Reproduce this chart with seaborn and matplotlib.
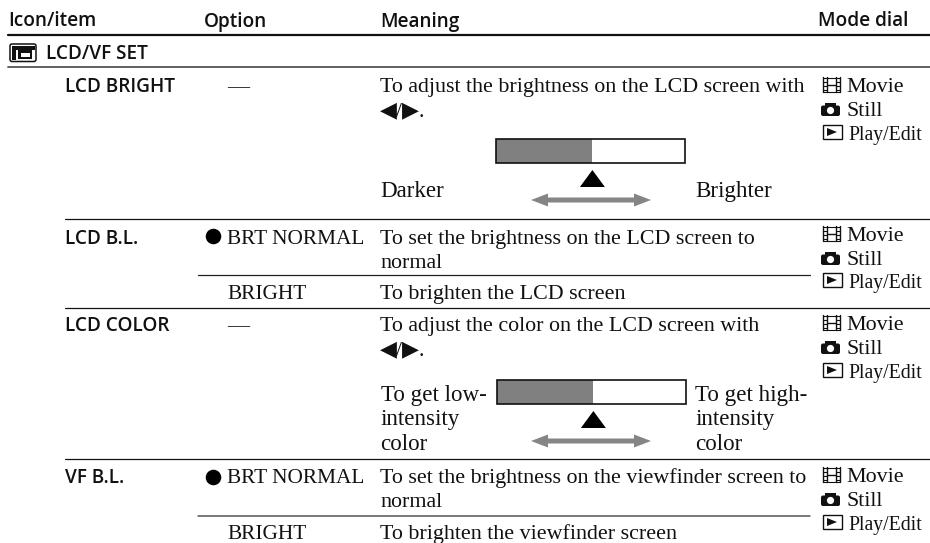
#!/usr/bin/env python3
# menu settings table, drawn on one pixel-sized axes
import matplotlib
matplotlib.use('Agg')
import matplotlib.pyplot as plt
from matplotlib.patches import Rectangle, Circle, FancyBboxPatch, Polygon, FancyArrow
import pandas as pd
import seaborn as sns

headers = ['Icon/item', 'Option', 'Meaning', 'Mode dial']
section = 'LCD/VF SET'
items = ['LCD BRIGHT', 'LCD B.L.', 'LCD COLOR', 'VF B.L.']
options = ['—', 'BRT NORMAL', 'BRIGHT', '—', 'BRT NORMAL', 'BRIGHT']
meanings = [
    ['To adjust the brightness on the LCD screen with', '◀/▶.'],
    ['To set the brightness on the LCD screen to', 'normal'],
    ['To brighten the LCD screen'],
    ['To adjust the color on the LCD screen with', '◀/▶.'],
    ['To set the brightness on the viewfinder screen to', 'normal'],
    ['To brighten the viewfinder screen'],
]
modes = ['Movie', 'Still', 'Play/Edit']
slider_level = [0.51, 0.51]
slider_left = ['Darker', 'To get low-\nintensity\ncolor']
slider_right = ['Brighter', 'To get high-\nintensity\ncolor']

SANS = 'Open Sans'
SERIF = ['Liberation Serif', 'DejaVu Sans']
FS_SANS = 13.7
FS_SERIF = 15.8
FS_LABEL = 16.6

sns.set_theme(style='white')
plt.rcParams['font.family'] = SERIF

fig = plt.figure(figsize=(9.3, 5.43), dpi=100)
ax = fig.add_axes([0, 0, 1, 1])
ax.set_facecolor('white')


def sans(x, y, s):
    ax.text(x, y, s, family=SANS, weight=600, fontsize=FS_SANS, va='baseline', color='#111111')


def serif(x, y, s, fs=FS_SERIF):
    ax.text(x, y, s, family=SERIF, fontsize=fs, va='baseline', color='#111111')


# rules: x from, x to, y, width, colour
rules = [(8, 930, 35, 1.6, '#111111'), (8, 930, 67, 1.3, '#555555'),
         (65, 930, 219, 0.9, '#111111'), (198, 810, 275, 0.9, '#222222'),
         (65, 930, 308, 0.9, '#111111'), (65, 930, 459, 0.9, '#111111'),
         (198, 810, 516, 1.1, '#555555')]
for x0, x1, y, lw, col in rules:
    df = pd.DataFrame({'x': [x0, x1], 'y': [y, y]})
    sns.lineplot(data=df, x='x', y='y', color=col, linewidth=lw, ax=ax, estimator=None,
                 sort=False, legend=False)

# header + section row
for x, s in zip([8, 204, 380, 818], headers):
    sans(x, 26.5, s)
sans(46, 59, section)

# LCD icon
ax.add_patch(FancyBboxPatch((10, 44), 26, 17.5, boxstyle='round,pad=0,rounding_size=2',
                            fc='white', ec='#111111', lw=1.1))
ax.add_patch(Rectangle((11.5, 46), 23, 3.5, fc='#111111', ec='none'))
ax.add_patch(Rectangle((11.5, 46), 4, 14, fc='#111111', ec='none'))
ax.add_patch(Rectangle((18, 50), 14, 9, fc='#111111', ec='none'))
ax.add_patch(Rectangle((20.5, 52.5), 9, 4, fc='white', ec='none'))

# rows
for y, s in zip([92, 244, 331, 483], items):
    sans(65, y, s)

opt_y = [92, 244, 299, 331, 483, 539]
for y, opt, lines in zip(opt_y, options, meanings):
    serif(227, y, opt, fs=15.4 if opt != '—' else FS_SERIF)
    for k, line in enumerate(lines):
        serif(380, y + k * 24, line)

# default-value bullets
bullets = pd.DataFrame({'x': [213, 213], 'y': [236, 477]})
sns.scatterplot(data=bullets, x='x', y='y', color='black', s=125, marker='o', linewidth=0,
                ax=ax, legend=False)


# mode column icons
def movie_icon(y):
    for x in (823, 826.5, 836, 839.5):
        ax.plot([x, x], [y - 15, y], color='#111111', lw=1)
    for dy in (-14.5, -10.5, -6.5, -2.5, 0):
        ax.plot([823, 826.5], [y + dy, y + dy], color='#111111', lw=0.8)
        ax.plot([836, 839.5], [y + dy, y + dy], color='#111111', lw=0.8)
    ax.plot([826.5, 836], [y - 7.5, y - 7.5], color='#111111', lw=1)
    ax.plot([826.5, 836], [y - 14.5, y - 14.5], color='#111111', lw=0.8)
    ax.plot([826.5, 836], [y - 0.5, y - 0.5], color='#111111', lw=0.8)


def still_icon(y):
    ax.add_patch(FancyBboxPatch((821, y - 10.5), 19, 10.5, boxstyle='round,pad=0,rounding_size=2',
                                fc='#111111', ec='none'))
    ax.add_patch(Rectangle((825, y - 13), 11, 3.5, fc='#111111', ec='none'))
    ax.add_patch(Circle((830.5, y - 5.5), 3.6, fc='white', ec='none'))


def play_icon(y):
    ax.add_patch(Rectangle((822.5, y - 15), 19, 14, fc='white', ec='#111111', lw=1))
    ax.add_patch(Polygon([(827, y - 12), (827, y - 4), (837, y - 8)], fc='#111111', ec='none'))


mode_y = [[92, 116, 140], [241, 265, 288], [330, 354, 378], [482, 506, 530]]
for (y0, y1, y2) in mode_y:
    movie_icon(y0)
    still_icon(y1)
    play_icon(y2)
    serif(846.5, y0, modes[0])
    serif(846.5, y1, modes[1])
    serif(848.5, y2, modes[2], fs=14.2)

# slider diagrams
box_y = [139, 380]
box_x = [496, 497]
tri_y = [187, 428]
arrow_y = [200, 441]
BOX_W, BOX_H = 189, 24
for i in range(2):
    mark = box_x[i] + BOX_W * slider_level[i]
    ax.barh(box_y[i] + BOX_H / 2, BOX_W * slider_level[i], height=BOX_H, left=box_x[i],
            color='#808080', edgecolor='none')
    ax.add_patch(Rectangle((box_x[i], box_y[i]), BOX_W, BOX_H, fc='none', ec='#111111', lw=1.2))
    ax.add_patch(Polygon([(mark - 12.5, tri_y[i]), (mark + 12.5, tri_y[i]), (mark, tri_y[i] - 17)],
                         fc='black', ec='none'))
    for dx in (60, -60):
        ax.add_patch(FancyArrow(591, arrow_y[i], dx, 0, width=5, head_width=13, head_length=17,
                                length_includes_head=True, fc='#858585', ec='none'))

serif(380.5, 197, slider_left[0], fs=FS_LABEL)
serif(695, 197, slider_right[0], fs=FS_LABEL)
for k, line in enumerate(slider_left[1].split('\n')):
    serif(380.5, 401 + k * 24.5, line, fs=FS_LABEL)
for k, line in enumerate(slider_right[1].split('\n')):
    serif(695, 401 + k * 24.5, line, fs=FS_LABEL)

ax.set_xlim(0, 930)
ax.set_ylim(543, 0)
ax.set_xlabel('')
ax.set_ylabel('')
ax.axis('off')
fig.savefig('out.png', dpi=100, facecolor='white')
